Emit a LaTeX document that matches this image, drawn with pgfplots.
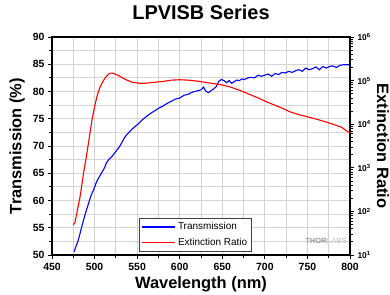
\documentclass[border=0pt]{standalone}
\usepackage{pgfplots}
\pgfplotsset{compat=1.18}
\usepackage{fontspec}
\setmainfont{Liberation Sans}
\definecolor{gridgray}{RGB}{212,212,212}

\pgfplotstableread{
x y
476 50.6
478 51.5
481 52.8
484 54.6
487 56.4
490 58.0
493 59.5
496 61.0
499 62.0
502 63.3
505 64.2
508 65.0
511 65.8
514 66.9
517 67.6
520 68.0
523 68.6
526 69.2
529 69.8
532 70.6
535 71.5
538 72.1
541 72.6
544 73.1
547 73.5
550 73.9
553 74.3
556 74.8
560 75.3
565 75.9
570 76.4
575 76.9
580 77.3
585 77.8
590 78.2
595 78.6
600 78.8
605 79.3
610 79.5
615 79.9
620 80.1
625 80.3
628 80.8
631 80.0
634 79.8
637 80.2
640 80.5
643 80.9
646 81.9
649 82.2
652 82.0
655 81.6
658 82.0
661 81.5
664 81.8
667 82.1
670 82.0
673 82.3
676 82.2
680 82.5
684 82.6
688 82.5
692 83.0
696 82.8
700 83.0
704 83.2
708 82.8
712 83.3
716 83.1
720 83.5
724 83.4
728 83.7
732 83.5
736 83.8
740 84.0
744 83.7
748 84.3
752 84.0
756 84.2
760 84.5
764 84.0
768 84.6
772 84.3
776 84.6
780 84.7
784 84.4
788 84.8
792 84.9
796 84.9
800 84.9
}\trans

\pgfplotstableread{
x y
475 49
477 56
480 112
483 219
487 741
491 2138
494 5248
497 12589
500 25119
503 44668
506 67608
509 89125
512 112202
515 131826
518 147911
521 147911
524 141254
528 131826
533 114815
538 102329
545 91201
552 87096
560 87096
570 91201
580 95499
590 102329
600 104713
610 102329
620 97724
630 91201
640 85114
650 79433
660 70795
670 60256
680 50119
690 41687
700 33884
710 28184
720 23442
730 19055
740 16596
750 14791
760 13183
770 11482
780 10000
790 8511
795 7244
800 6310
}\extinction

\begin{document}
\begin{tikzpicture}
\begin{axis}[
  scale only axis, width=298bp, height=218bp, at={(0,0)}, anchor=south west,
  xmin=450, xmax=800, ymin=50, ymax=90,
  xtick={450,500,...,800}, ytick={50,55,...,90},
  minor x tick num=1, minor y tick num=1,
  grid=both,
  major grid style={gridgray, line width=0.9pt},
  minor grid style={gridgray, line width=0.9pt},
  tick align=outside, xtick pos=bottom, ytick pos=left,
  major tick length=4bp, minor tick length=2.5bp,
  every tick/.style={black, line width=1pt},
  axis line style={black, line width=1.4pt},
  /pgf/number format/assume math mode=true,
  ticklabel style={font=\bfseries\fontsize{10.5}{12}\selectfont},
  xticklabel style={yshift=-1bp},
  xlabel={Wavelength (nm)}, ylabel={Transmission (\%)},
  label style={font=\bfseries\fontsize{16.5}{19}\selectfont},
  xlabel style={at={(axis description cs:0.5,0)}, anchor=base, yshift=-33bp},
  ylabel style={at={(axis description cs:0,0.5)}, anchor=center, yshift=35bp},
  title={LPVISB Series},
  title style={font=\bfseries\fontsize{20}{24}\selectfont, at={(axis description cs:0.5,1)}, anchor=base, yshift=12bp},
]
\addplot[blue, line width=1.1pt] table[x=x,y=y] {\trans};
\end{axis}
\begin{axis}[
  scale only axis, width=298bp, height=218bp, at={(0,0)}, anchor=south west,
  xmin=450, xmax=800, ymode=log, ymin=10, ymax=1e6,
  axis y line*=right, axis x line=none,
  ytick={10,100,1000,10000,100000,1000000},
  yticklabels={10\textsuperscript{1},10\textsuperscript{2},10\textsuperscript{3},10\textsuperscript{4},10\textsuperscript{5},10\textsuperscript{6}},
  yticklabel style={font=\bfseries\fontsize{8.5}{10}\selectfont},
  tick align=outside,
  major tick length=4bp, minor tick length=2.5bp,
  every tick/.style={black, line width=0.8pt},
  axis line style={black, line width=1.4pt},
  ylabel={Extinction Ratio},
  ylabel style={font=\bfseries\fontsize{16.5}{19}\selectfont, at={(axis description cs:1,0.5)}, anchor=center, rotate=180, yshift=33bp},
  legend image code/.code={\draw[#1] (0bp,0bp) -- (33bp,0bp);},
  legend style={at={(axis description cs:0.292,0.014)}, anchor=south west,
    draw=black!75, line width=0.8pt, fill=white,
    font=\fontsize{10}{11}\selectfont, inner xsep=2bp, inner ysep=2.5bp,
    row sep=3bp},
  legend cell align=left,
]
\addlegendimage{blue, line width=1.6pt}
\addlegendentry{Transmission}
\addlegendimage{red, line width=1.6pt}
\addlegendentry{Extinction Ratio}
\addplot[red, line width=1.1pt, forget plot] table[x=x,y=y] {\extinction};
\node[anchor=east, font=\bfseries\fontsize{7.5}{8}\selectfont, inner sep=0pt] at (axis description cs:0.99,0.065) {\textcolor{black!40}{THOR}\textcolor{black!20}{LABS}};
\end{axis}
\pgfresetboundingbox
\path[use as bounding box] (-52bp,-40bp) rectangle (338bp,255bp);
\end{tikzpicture}
\end{document}
